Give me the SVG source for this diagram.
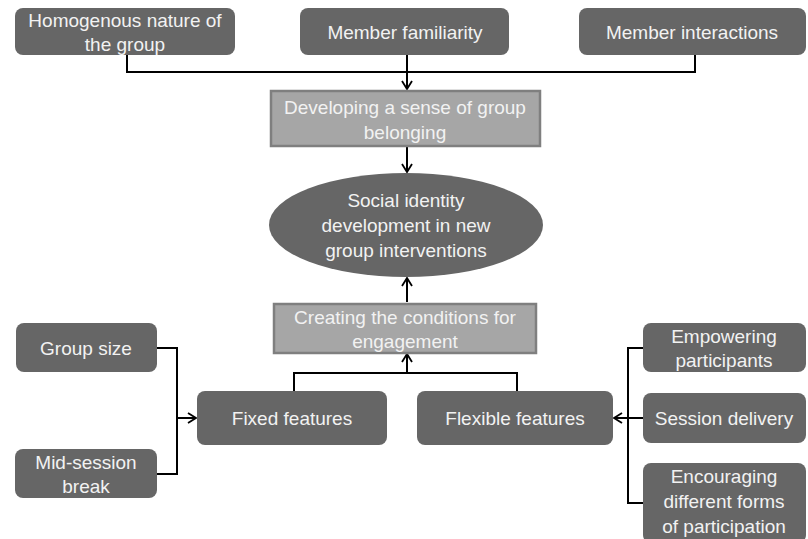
<svg xmlns="http://www.w3.org/2000/svg" width="808" height="539" viewBox="0 0 808 539">
<defs>
<marker id="arr" markerWidth="12" markerHeight="12" refX="10" refY="6" orient="auto" markerUnits="userSpaceOnUse">
<path d="M2,1 L10,6 L2,11" fill="none" stroke="#000" stroke-width="1.8"/>
</marker>
<style>
.dk{fill:#666;}
.lt{fill:#a6a6a6;stroke:#7f7f7f;stroke-width:2.5;}
text{font-family:"Liberation Sans",Arial,sans-serif;font-size:19px;fill:#f2f2f2;text-anchor:middle;}
.c{fill:none;stroke:#000;stroke-width:2;}
</style>
</defs>
<rect width="808" height="539" fill="#fff"/>
<g id="connectors">
<polyline class="c" points="127,55 127,72 695,72 695,55"/>
<line class="c" x1="407" y1="55" x2="407" y2="89" marker-end="url(#arr)"/>
<line class="c" x1="407" y1="147" x2="407" y2="172" marker-end="url(#arr)"/>
<line class="c" x1="407" y1="302" x2="407" y2="278" marker-end="url(#arr)"/>
<polyline class="c" points="294,391 294,373 517,373 517,391"/>
<line class="c" x1="407" y1="373" x2="407" y2="354" marker-end="url(#arr)"/>
<polyline class="c" points="157,348 177,348 177,474 157,474"/>
<line class="c" x1="177" y1="418" x2="196" y2="418" marker-end="url(#arr)"/>
<polyline class="c" points="643,348 628,348 628,503 643,503"/>
<line class="c" x1="643" y1="418" x2="614" y2="418" marker-end="url(#arr)"/>
</g>
<g id="homogenous"><rect class="dk" x="15" y="8" width="220" height="47" rx="8"/><text x="125" y="27">Homogenous nature of</text><text x="125" y="51">the group</text></g>
<g id="familiarity"><rect class="dk" x="300" y="8" width="209" height="47" rx="8"/><text x="405" y="39">Member familiarity</text></g>
<g id="interactions"><rect class="dk" x="579" y="8" width="227" height="47" rx="8"/><text x="692" y="39">Member interactions</text></g>
<g id="belonging"><rect class="lt" x="271" y="91" width="269" height="55"/><text x="405" y="114">Developing a sense of group</text><text x="405" y="139">belonging</text></g>
<g id="identity"><ellipse class="dk" cx="406" cy="225" rx="137" ry="52"/><text x="406" y="207">Social identity</text><text x="406" y="232">development in new</text><text x="406" y="257">group interventions</text></g>
<g id="conditions"><rect class="lt" x="274" y="304" width="262" height="49"/><text x="405" y="324">Creating the conditions for</text><text x="405" y="348">engagement</text></g>
<g id="fixed"><rect class="dk" x="197" y="391" width="190" height="54" rx="8"/><text x="292" y="425">Fixed features</text></g>
<g id="flexible"><rect class="dk" x="417" y="391" width="196" height="54" rx="8"/><text x="515" y="425">Flexible features</text></g>
<g id="groupsize"><rect class="dk" x="16" y="323" width="141" height="49" rx="8"/><text x="86" y="355">Group size</text></g>
<g id="midsession"><rect class="dk" x="15" y="449" width="142" height="49" rx="8"/><text x="86" y="469">Mid-session</text><text x="86" y="493">break</text></g>
<g id="empowering"><rect class="dk" x="643" y="323" width="163" height="49" rx="8"/><text x="724" y="343">Empowering</text><text x="724" y="367">participants</text></g>
<g id="delivery"><rect class="dk" x="643" y="393" width="163" height="50" rx="8"/><text x="724" y="425">Session delivery</text></g>
<g id="encouraging"><rect class="dk" x="643" y="463" width="163" height="80" rx="8"/><text x="724" y="483">Encouraging</text><text x="724" y="508">different forms</text><text x="724" y="533">of participation</text></g>
</svg>
